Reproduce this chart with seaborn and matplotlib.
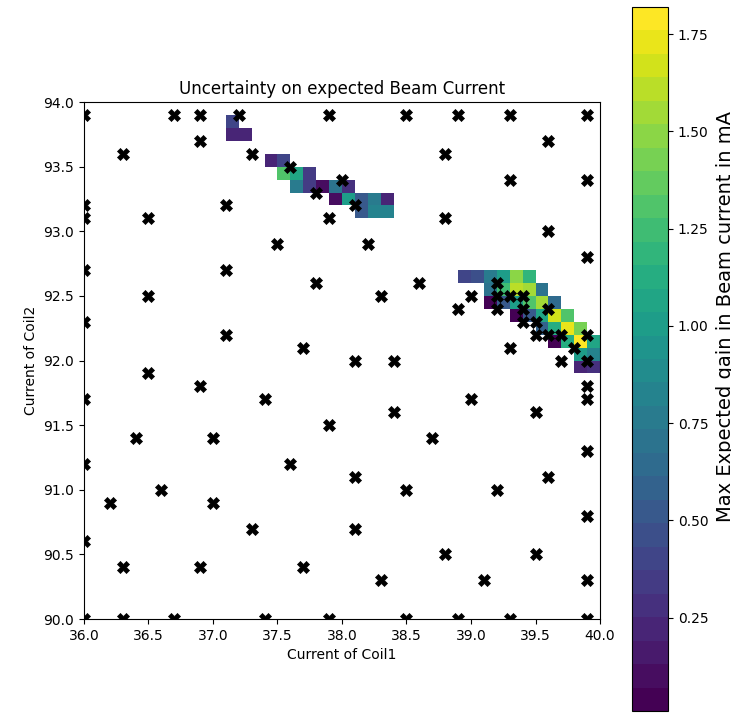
import numpy as np
import pandas as pd
import matplotlib
matplotlib.use('Agg')
import matplotlib.pyplot as plt
import seaborn as sns

# cells of the uncertainty map (lower-left corner of each 0.1 x 0.1 cell)
cell_coil1 = [37.1,
              37.1, 37.2,
              37.4, 37.5,
              37.5, 37.6, 37.7,
              37.6, 37.7, 37.8, 37.9, 38.0,
              37.9, 38.0, 38.1, 38.2, 38.3,
              38.1, 38.2, 38.3,
              38.9, 39.0, 39.1, 39.2, 39.3, 39.4,
              39.1, 39.2, 39.3, 39.4, 39.5,
              39.1, 39.2, 39.3, 39.4, 39.5, 39.6,
              39.3, 39.4, 39.5, 39.6, 39.7,
              39.5, 39.6, 39.7, 39.8,
              39.6, 39.7, 39.8, 39.9,
              39.8, 39.9,
              39.8, 39.9]
cell_coil2 = [93.8,
              93.7, 93.7,
              93.5, 93.5,
              93.4, 93.4, 93.4,
              93.3, 93.3, 93.3, 93.3, 93.3,
              93.2, 93.2, 93.2, 93.2, 93.2,
              93.1, 93.1, 93.1,
              92.6, 92.6, 92.6, 92.6, 92.6, 92.6,
              92.5, 92.5, 92.5, 92.5, 92.5,
              92.4, 92.4, 92.4, 92.4, 92.4, 92.4,
              92.3, 92.3, 92.3, 92.3, 92.3,
              92.2, 92.2, 92.2, 92.2,
              92.1, 92.1, 92.1, 92.1,
              92.0, 92.0,
              91.9, 91.9]
cell_gain = [0.40,
             0.22, 0.22,
             0.25, 0.42,
             1.30, 1.05, 0.32,
             0.78, 0.32, 0.08, 0.72, 0.30,
             0.12, 1.02, 0.52, 0.75, 0.22,
             0.50, 0.80, 0.82,
             0.38, 0.45, 0.75, 1.00, 1.50, 1.20,
             0.72, 1.25, 1.62, 1.52, 0.72,
             0.03, 0.50, 1.00, 1.30, 1.55, 0.62,
             0.05, 0.50, 1.05, 1.68, 1.30,
             0.60, 1.12, 1.75, 1.45,
             0.03, 1.10, 1.81, 1.05,
             1.02, 0.82,
             0.22, 0.28]

# measured points
point_coil1 = [36.0, 36.7, 36.9, 37.2, 37.9, 38.5, 38.9, 39.3, 39.9,
               36.9, 39.6,
               36.3, 37.3, 38.8,
               37.6,
               38.0, 39.3, 39.9,
               37.8,
               36.0, 37.1, 38.1,
               36.0, 36.5, 37.9, 38.8,
               39.6,
               37.5, 38.2,
               39.9,
               36.0, 37.1,
               37.8, 38.6, 39.2,
               36.5, 38.3, 39.0, 39.2, 39.3, 39.4,
               38.9, 39.2, 39.4, 39.6,
               36.0, 39.4, 39.5,
               37.1, 39.5, 39.6, 39.7, 39.9,
               37.7, 39.3, 39.8,
               38.1, 38.4, 39.7, 39.9,
               36.5,
               36.9, 39.9,
               36.0, 37.4, 39.0, 39.9,
               38.4, 39.5,
               37.9,
               36.4, 37.0, 38.7,
               39.9,
               36.0, 37.6,
               38.1, 39.6,
               36.6, 38.5, 39.2,
               36.2, 37.0,
               39.9,
               37.3, 38.1,
               36.0,
               38.8, 39.5,
               36.3, 36.9, 37.7,
               38.3, 39.1, 39.9,
               36.0, 36.3, 36.7, 37.4, 37.9, 38.5, 38.9, 39.3, 39.9]
point_coil2 = [93.9] * 9 + [93.7] * 2 + [93.6] * 3 + [93.5] + [93.4] * 3 + [93.3] \
    + [93.2] * 3 + [93.1] * 4 + [93.0] + [92.9] * 2 + [92.8] + [92.7] * 2 \
    + [92.6] * 3 + [92.5] * 6 + [92.4] * 4 + [92.3] * 3 + [92.2] * 5 \
    + [92.1] * 3 + [92.0] * 4 + [91.9] + [91.8] * 2 + [91.7] * 4 + [91.6] * 2 \
    + [91.5] + [91.4] * 3 + [91.3] + [91.2] * 2 + [91.1] * 2 + [91.0] * 3 \
    + [90.9] * 2 + [90.8] + [90.7] * 2 + [90.6] + [90.5] * 2 + [90.4] * 3 \
    + [90.3] * 3 + [90.0] * 9

coil1_edges = np.linspace(36, 40, 41)
coil2_edges = np.linspace(90, 94, 41)

# build the 40 x 40 grid (NaN = not shown)
grid = np.full((40, 40), np.nan)
for c1, c2, g in zip(cell_coil1, cell_coil2, cell_gain):
    i = int(round((c2 - 90) / 0.1))
    j = int(round((c1 - 36) / 0.1))
    grid[i, j] = g

points = pd.DataFrame({'coil1': point_coil1, 'coil2': point_coil2})

fig = plt.figure(figsize=(7.31, 7.13), dpi=100)
ax = fig.add_axes([0.1149, 0.1318, 0.7059, 0.7251])
cax = fig.add_axes([0.8646, 0.0028, 0.0492, 0.9874])

cmap = plt.get_cmap('viridis', 30)
mesh = ax.pcolormesh(coil1_edges, coil2_edges, np.ma.masked_invalid(grid),
                     cmap=cmap, vmin=0.01, vmax=1.82)
sns.scatterplot(data=points, x='coil1', y='coil2', marker='X', color='black',
                edgecolor='black', linewidth=0.5, s=75, ax=ax, zorder=3)

ax.set_xlim(36, 40)
ax.set_ylim(90, 94)
ax.set_xticks(np.arange(36, 40.01, 0.5))
ax.set_yticks(np.arange(90, 94.01, 0.5))
ax.xaxis.set_major_formatter(matplotlib.ticker.FormatStrFormatter('%.1f'))
ax.yaxis.set_major_formatter(matplotlib.ticker.FormatStrFormatter('%.1f'))
ax.set_xlabel('Current of Coil1')
ax.set_ylabel('Current of Coil2')
ax.set_title('Uncertainty on expected Beam Current')

cbar = fig.colorbar(mesh, cax=cax)
cbar.set_ticks([0.25, 0.5, 0.75, 1.0, 1.25, 1.5, 1.75])
cbar.set_label('Max Expected gain in Beam current in mA', fontsize=14)
cbar.ax.yaxis.set_label_coords(2.33, 0.56)

fig.savefig('out.png', dpi=100)
